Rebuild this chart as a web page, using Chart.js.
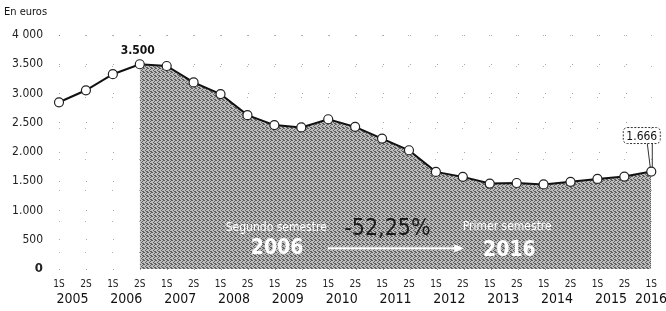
<!DOCTYPE html>
<html>
<head>
<meta charset="utf-8">
<script src="https://cdn.jsdelivr.net/npm/chart.js@4/dist/chart.umd.min.js"></script>
<style>
  html, body { margin: 0; padding: 0; background: #fff; }
  #wrap { width: 666px; height: 311px; }
</style>
</head>
<body>
<div id="wrap"><canvas id="chart"></canvas></div>
<script>
// semesters, 1S 2005 .. 1S 2016
const periods = ['1S','2S','1S','2S','1S','2S','1S','2S','1S','2S','1S','2S',
  '1S','2S','1S','2S','1S','2S','1S','2S','1S','2S','1S'];
const years = ['2005','2006','2007','2008','2009','2010','2011','2012','2013','2014','2015','2016'];
// average amount, euros
const amounts = [2850, 3055, 3330, 3500, 3470, 3190, 2990, 2630, 2460, 2420, 2560, 2430,
  2230, 2030, 1660, 1575, 1460, 1470, 1445, 1490, 1540, 1580, 1666];
const yTicks = ['0', '500', '1.000', '1.500', '2.000', '2.500', '3.000', '3.500', '4 000'];
const startIdx = 3; // 2S 2006, start of shaded period
const shaded = amounts.map((v, i) => (i >= startIdx ? v : null));

const FONT = "'DejaVu Sans Condensed', 'Liberation Sans Narrow', 'Liberation Sans', sans-serif";

// grey dithered fill like the print screen
function ditherPattern() {
  const c = document.createElement('canvas');
  c.width = 4; c.height = 4;
  const g = c.getContext('2d');
  g.fillStyle = '#bdbdbd';
  g.fillRect(0, 0, 4, 4);
  g.fillStyle = '#5e5e5e';
  [[0,0],[2,1],[1,2],[3,3],[2,3],[3,0]].forEach(p => g.fillRect(p[0], p[1], 1, 1));
  return g.createPattern(c, 'repeat');
}

const extras = {
  id: 'extras',
  afterDraw(chart) {
    const { ctx, scales: { x, y } } = chart;
    ctx.save();
    // unit label
    ctx.fillStyle = '#111';
    ctx.font = '11px ' + FONT;
    ctx.textAlign = 'left';
    ctx.textBaseline = 'middle';
    ctx.fillText('En euros', 4, 12);

    // year labels under 1S/2S
    ctx.font = '14px ' + FONT;
    ctx.textAlign = 'center';
    years.forEach((yr, i) => {
      const a = x.getPixelForValue(i * 2);
      const b = i * 2 + 1 < periods.length ? x.getPixelForValue(i * 2 + 1) : a;
      let cx = (a + b) / 2;
      const w = ctx.measureText(yr).width;
      cx = Math.min(cx, chart.width - w / 2 + 1);
      ctx.fillText(yr, cx, 299);
    });

    // peak label
    const px = x.getPixelForValue(startIdx);
    const py = y.getPixelForValue(amounts[startIdx]);
    ctx.font = 'bold 12px ' + FONT;
    ctx.fillStyle = '#111';
    ctx.fillText('3.500', px - 2, py - 13);

    // last value box
    const li = amounts.length - 1;
    const lx = x.getPixelForValue(li);
    const ly = y.getPixelForValue(amounts[li]);
    const bx = lx - 28, by = ly - 44, bw = 37, bh = 16;
    ctx.strokeStyle = '#333';
    ctx.lineWidth = 1;
    ctx.setLineDash([2, 1.5]);
    ctx.beginPath();
    ctx.roundRect(bx, by, bw, bh, 4);
    ctx.stroke();
    ctx.setLineDash([]);
    ctx.beginPath();
    ctx.moveTo(lx - 4, by + bh); ctx.lineTo(lx - 1, ly - 4);
    ctx.moveTo(lx + 1, by + bh); ctx.lineTo(lx + 1, ly - 4);
    ctx.stroke();
    ctx.font = '12px ' + FONT;
    ctx.fillStyle = '#111';
    ctx.fillText('1.666', bx + bw / 2, by + bh / 2 + 1);

    // texts inside the shaded area
    const ix = idx => x.getPixelForValue(0) + idx * (x.getPixelForValue(1) - x.getPixelForValue(0));
    ctx.fillStyle = '#fff';
    ctx.font = '12px ' + FONT;
    ctx.fillText('Segundo semestre', ix(8.07), y.getPixelForValue(709));
    ctx.fillText('Primer semestre', ix(16.65), y.getPixelForValue(726));
    ctx.font = 'bold 21px ' + FONT;
    ctx.fillText('2006', ix(8.1), y.getPixelForValue(354));
    ctx.fillText('2016', ix(16.73), y.getPixelForValue(320));
    ctx.fillStyle = '#1a1a1a';
    ctx.font = '23px ' + FONT;
    ctx.fillText('-52,25%', ix(12.2), y.getPixelForValue(675));

    // arrow
    const ax0 = ix(9.98), ax1 = ix(15.05), ay = y.getPixelForValue(354);
    ctx.strokeStyle = '#fff';
    ctx.fillStyle = '#fff';
    ctx.lineWidth = 2;
    ctx.beginPath();
    ctx.moveTo(ax0, ay); ctx.lineTo(ax1 - 8, ay);
    ctx.stroke();
    ctx.beginPath();
    ctx.moveTo(ax1, ay); ctx.lineTo(ax1 - 10, ay - 4); ctx.lineTo(ax1 - 10, ay + 4);
    ctx.closePath();
    ctx.fill();
    ctx.restore();
  }
};

new Chart(document.getElementById('chart'), {
  type: 'line',
  data: {
    labels: periods,
    datasets: [
      {
        data: shaded,
        fill: 'origin',
        backgroundColor: ditherPattern(),
        borderWidth: 0,
        pointRadius: 0,
        tension: 0,
        order: 2,
      },
      {
        data: amounts,
        fill: false,
        borderColor: '#111',
        borderWidth: 2,
        pointRadius: 4.5,
        pointBackgroundColor: '#fff',
        pointBorderColor: '#222',
        pointBorderWidth: 1.2,
        tension: 0,
        order: 1,
      },
    ],
  },
  options: {
    responsive: true,
    maintainAspectRatio: false,
    animation: false,
    layout: { padding: { top: 35, right: 10, left: 0, bottom: 0 } },
    plugins: { legend: { display: false }, tooltip: { enabled: false } },
    scales: {
      x: {
        offset: false,
        grid: { color: 'rgba(0,0,0,0.3)', drawTicks: false },
        border: { display: false, dash: [1, 30] },
        afterFit: s => { s.height = 42; },
        ticks: {
          color: '#222',
          font: { family: FONT, size: 10 },
          padding: 9,
          maxRotation: 0,
          autoSkip: false,
        },
      },
      y: {
        min: 0,
        max: 4000,
        afterFit: s => { s.width = 59; },
        grid: { color: 'rgba(0,0,0,0.35)', drawTicks: false },
        border: { display: false, dash: [1, 26] },
        ticks: {
          stepSize: 500,
          color: '#222',
          padding: 16,
          font: ctx => ({ family: FONT, size: ctx.index === 0 ? 13 : 12, weight: ctx.index === 0 ? 'bold' : 'normal' }),
          callback: (v, i) => yTicks[i],
        },
      },
    },
  },
  plugins: [extras],
});
</script>
</body>
</html>
